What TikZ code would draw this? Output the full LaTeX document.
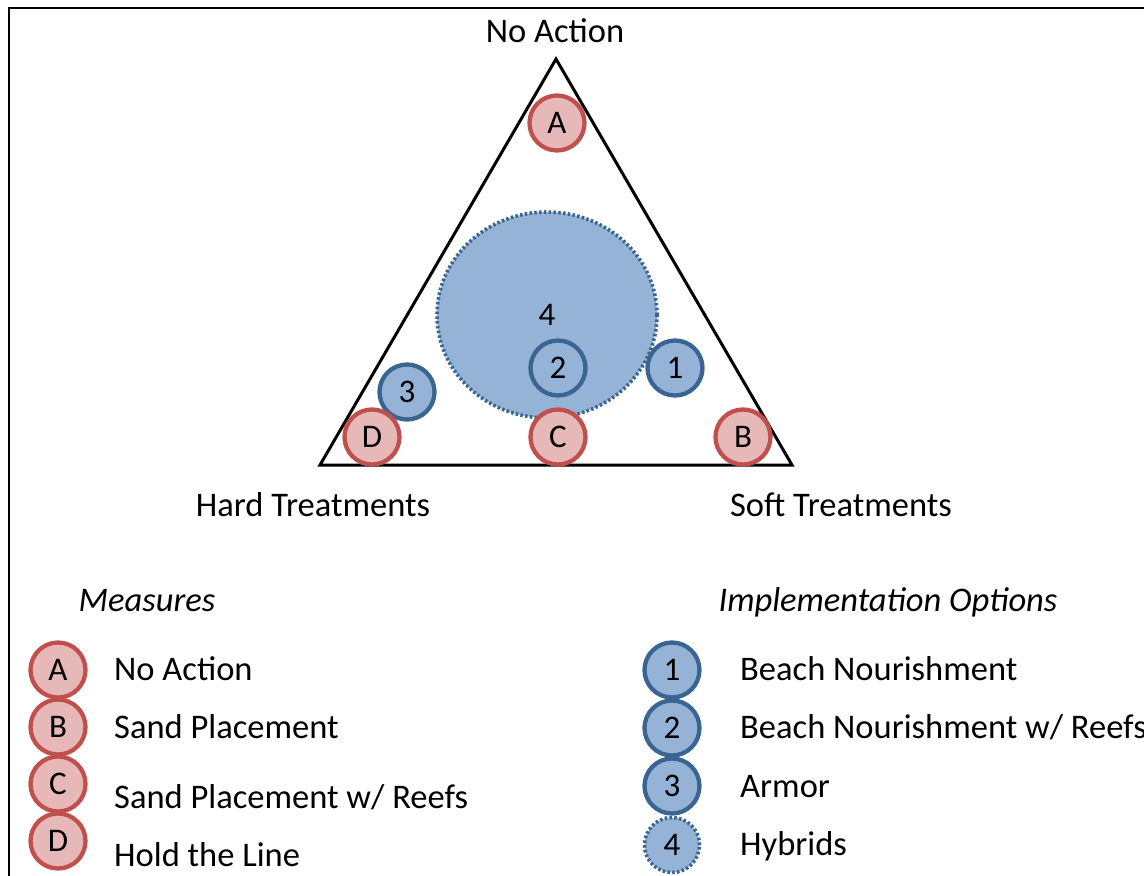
\documentclass[tikz,border=0pt]{standalone}
\usepackage{fontspec}
\setmainfont{Carlito}
\usetikzlibrary{shapes.geometric}
\definecolor{redfill}{HTML}{E6B9B8}
\definecolor{redline}{HTML}{C0504D}
\definecolor{bluefill}{HTML}{95B3D7}
\definecolor{blueline}{HTML}{3A6591}
\begin{document}
\begin{tikzpicture}[x=1pt,y=-1pt,
  meas/.style={circle, draw=redline, fill=redfill, line width=4.3pt, minimum size=55pt, inner sep=0pt, font=\fontsize{33}{38}\selectfont},
  impl/.style={circle, draw=blueline, fill=bluefill, line width=4.3pt, minimum size=55pt, inner sep=0pt, font=\fontsize{33}{38}\selectfont},
  hyb/.style={impl, dash pattern=on 2.5pt off 2.3pt, line width=3.6pt},
  lbl/.style={anchor=base west, inner sep=0pt, font=\fontsize{34.5}{40}\selectfont},
  ttl/.style={anchor=base, inner sep=0pt, font=\fontsize{34.5}{40}\selectfont},
  head/.style={anchor=base, inner sep=0pt, font=\fontsize{34.5}{40}\selectfont\itshape}]
\useasboundingbox (0,0) rectangle (1144,876);
\fill[white] (0,0) rectangle (1144,876);
% frame
\coordinate (fr1) at (1160,8);
\coordinate (fr2) at (9,8);
\coordinate (fr3) at (9,890);
\draw[line width=2.6pt] (fr1) -- (fr2) -- (fr3);
% triangle
\coordinate (apex) at (556,59);
\coordinate (bl) at (320,465);
\coordinate (br) at (792,465);
\draw[line width=3pt] (apex) -- (bl) -- (br) -- cycle;
\node[ttl] (tNA) at (555,42) {No Action};
\node[ttl] (tHT) at (313,516) {Hard Treatments};
\node[ttl] (tST) at (841,516) {Soft Treatments};
% hybrid zone
\node[hyb, ellipse, minimum width=220pt, minimum height=206pt] (h4) at (547,315) {4};
% implementation options
\node[impl] (i2) at (558,368) {2};
\node[impl] (i1) at (675,368) {1};
\node[impl] (i3) at (407,392) {3};
% measures
\node[meas] (mA) at (557,123) {A};
\node[meas] (mD) at (372,437) {D};
\node[meas] (mC) at (558,437) {C};
\node[meas] (mB) at (743,437) {B};
% legend headings
\node[head] (hM) at (147,611) {Measures};
\node[head] (hI) at (888,611) {Implementation Options};
% measures legend
\node[meas] (lD) at (58,841) {D};
\node[meas] (lC) at (58,784) {C};
\node[meas] (lB) at (58,727) {B};
\node[meas] (lA) at (58,670) {A};
\node[lbl] (tA) at (114,680) {No Action};
\node[lbl] (tB) at (114,738) {Sand Placement};
\node[lbl] (tC) at (114,808) {Sand Placement w/ Reefs};
\node[lbl] (tD) at (114,866) {Hold the Line};
% implementation legend
\node[hyb] (l4) at (672,845) {4};
\node[impl] (l3) at (672,786) {3};
\node[impl] (l2) at (672,728) {2};
\node[impl] (l1) at (672,670) {1};
\node[lbl] (t1) at (740,680) {Beach Nourishment};
\node[lbl] (t2) at (740,738) {Beach Nourishment w/ Reefs};
\node[lbl] (t3) at (740,797) {Armor};
\node[lbl] (t4) at (740,855) {Hybrids};
\end{tikzpicture}
\end{document}
